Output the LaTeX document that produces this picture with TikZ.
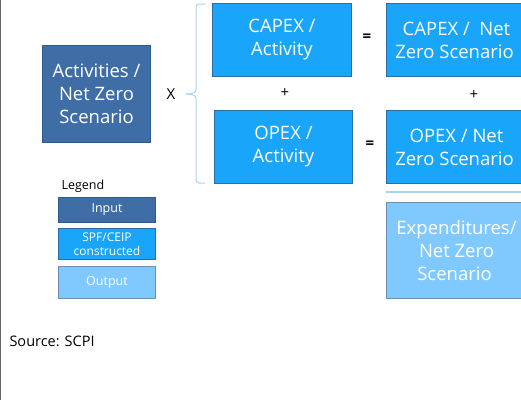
\documentclass[tikz,border=0pt]{standalone}
\usepackage{fontspec}
\setmainfont{Open Sans}
\definecolor{inputc}{HTML}{3F6EA6}
\definecolor{inputb}{HTML}{2E5A8C}
\definecolor{spfc}{HTML}{18A5FA}
\definecolor{spfb}{HTML}{2C6FA8}
\definecolor{outc}{HTML}{80C9FF}
\definecolor{outb}{HTML}{6E8FAE}
\definecolor{bracec}{HTML}{A9D3F2}
\begin{document}
\begin{tikzpicture}[x=1pt,y=-1pt,
  box/.style={draw, line width=1pt, text=white, align=center, inner sep=0pt, anchor=north west},
  inbox/.style={box, fill=inputc, draw=inputb},
  spfbox/.style={box, fill=spfc, draw=spfb},
  outbox/.style={box, fill=outc, draw=outb},
  big/.style={font=\fontsize{18.5}{23}\selectfont},
  sym/.style={font=\fontsize{15}{17}\selectfont}]
\useasboundingbox (0,0) rectangle (521,400);
\draw[gray!80!black, line width=1.2pt] (0.6,0) -- (0.6,400);
\node[inbox, big, minimum width=108, minimum height=97] (act) at (42,45) {Activities /\\Net Zero\\Scenario};
\node[sym] (x) at (171,94) {X};
\node[spfbox, big, minimum width=139, minimum height=73] (capa) at (212,3) {CAPEX /\\Activity};
\node[spfbox, big, minimum width=138, minimum height=73] (opa) at (214,110) {OPEX /\\Activity};
\node[sym, font=\fontsize{15}{17}\bfseries] (eq1) at (367,38) {=};
\node[sym, font=\fontsize{15}{17}\bfseries] (eq2) at (370,145) {=};
\node[sym] (p1) at (285,93) {+};
\node[sym] (p2) at (474,95) {+};
\node[spfbox, big, minimum width=140, minimum height=73] (capn) at (386,3) {CAPEX /~~Net\\Zero Scenario\hspace*{4pt}};
\node[spfbox, big, minimum width=140, minimum height=73] (opn) at (386,110) {OPEX / Net\\Zero Scenario\hspace*{4pt}};
\coordinate (la) at (386,192);
\coordinate (lb) at (526,192);
\draw[bracec, line width=2pt] (la) -- (lb);
\node[outbox, big, minimum width=140, minimum height=96] (exp) at (386,202) {Expenditures/\\Net Zero\\Scenario\hspace*{4pt}};
\coordinate (bt) at (205,4);
\coordinate (bb) at (205,183);
\coordinate (bm) at (186,94);
\draw[bracec, line width=1pt] (bt) -- (199,4) .. controls (196,4) and (196,6) .. (196,9) -- (196,89) .. controls (196,92) and (194,94) .. (bm);
\draw[bracec, line width=1pt] (bb) -- (199,183) .. controls (196,183) and (196,181) .. (196,178) -- (196,99) .. controls (196,96) and (194,94) .. (bm);
\node[font=\fontsize{12.5}{14}\selectfont, anchor=west] (leg) at (58,186) {Legend};
\node[inbox, font=\fontsize{12.5}{14}\selectfont, minimum width=97, minimum height=25] (lin) at (58,197) {Input};
\node[spfbox, font=\fontsize{12}{14}\selectfont, minimum width=97, minimum height=31] (lspf) at (58,228) {SPF/CEIP\\constructed};
\node[outbox, font=\fontsize{12.5}{14}\selectfont, minimum width=97, minimum height=32] (lout) at (58,266) {Output};
\node[font=\fontsize{14.5}{16}\selectfont, anchor=west] (src) at (6,341) {Source: SCPI};
\end{tikzpicture}
\end{document}
